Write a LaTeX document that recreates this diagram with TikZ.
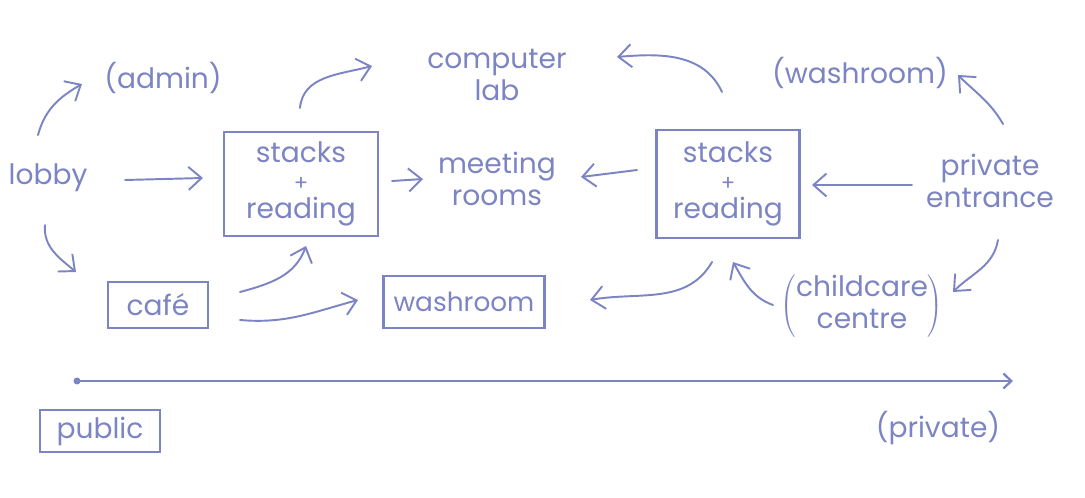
\documentclass[tikz,border=0pt]{standalone}
\usepackage{fontspec}
\setmainfont{Poppins}
\usetikzlibrary{arrows.meta}
\usepackage{xcolor}
\definecolor{ink}{HTML}{7C84C4}
\newcommand{\plusmark}{{\fontsize{12}{12}\selectfont +}}
\tikzset{
  place/.style={text=ink,align=center,font=\fontsize{16}{18}\selectfont,inner sep=1pt},
  room/.style={place,draw=ink,line width=1.4pt,inner sep=0pt},
  arr/.style={-{Straight Barb[length=2.6mm,width=4.6mm]},line width=1.1pt,draw=ink,line cap=round},
  axis/.style={-{Straight Barb[length=1.6mm,width=3mm]},line width=1.3pt,draw=ink}
}

\begin{document}
\begin{tikzpicture}[x=0.02cm,y=-0.02cm]
        \useasboundingbox (0,0) rectangle (1085,497);
        % places
        \node[place] (lobby) at (48,178) {lobby};
        \node[place] (admin) at (163,78) {(admin)};
        \node[room,minimum width=3.08cm,minimum height=2.08cm] (stackA) at (301,184) {stacks\\[-2pt]\plusmark\\[-2pt]reading};
        \node[place] (lab) at (497,75) {computer\\lab};
        \node[place] (meet) at (497,179) {meeting\\rooms};
        \node[room,minimum width=2.86cm,minimum height=2.16cm] (stackB) at (728,184) {stacks\\[-2pt]\plusmark\\[-2pt]reading};
        \node[place] (washB) at (860,73) {(washroom)};
        \node[place] (entr) at (990,181) {private\\entrance};
        \node[room,minimum width=2.0cm,minimum height=0.92cm] (cafe) at (158,305) {café};
        \node[room,minimum width=3.22cm,minimum height=1.04cm,font=\fontsize{15}{18}\selectfont] (washA) at (464,302) {washroom};
        \node[place] (child) at (862,306) {\(\left(\begin{tabular}{@{}c@{}}childcare\\centre\end{tabular}\right)\)};
        % flows
        \draw[arr] ([shift={(-10,-43)}]lobby.center) to[out=75,in=210] ([shift={(-81,6)}]admin.center);
        \draw[arr] ([shift={(-3,47)}]lobby.center) to[out=-95,in=140] ([shift={(-82,-33)}]cafe.center);
        \draw[arr] ([shift={(77,2)}]lobby.center) -- ([shift={(-98,-6)}]stackA.center);
        \draw[arr] ([shift={(-1,-76)}]stackA.center) to[out=85,in=195] ([shift={(-125,-9)}]lab.center);
        \draw[arr] ([shift={(91,-3)}]stackA.center) -- ([shift={(-74,0)}]meet.center);
        \draw[arr] ([shift={(-91,-14)}]stackB.center) -- ([shift={(84,-2)}]meet.center);
        \draw[arr] ([shift={(-6,-92)}]stackB.center) to[out=115,in=5] ([shift={(120,-18)}]lab.center);
        \draw[arr] ([shift={(-78,4)}]entr.center) -- ([shift={(84,1)}]stackB.center);
        \draw[arr] ([shift={(13,-57)}]entr.center) to[out=120,in=-45] ([shift={(98,2)}]washB.center);
        \draw[arr] ([shift={(8,59)}]entr.center) to[out=-100,in=45] ([shift={(91,-14)}]child.center);
        \draw[arr] ([shift={(-89,-1)}]child.center) to[out=160,in=-60] ([shift={(5,78)}]stackB.center);
        \draw[arr] ([shift={(-16,78)}]stackB.center) to[out=-120,in=10] ([shift={(126,-2)}]washA.center);
        \draw[arr] ([shift={(82,-13)}]cafe.center) to[out=15,in=-110] ([shift={(5,62)}]stackA.center);
        \draw[arr] ([shift={(82,15)}]cafe.center) to[out=-5,in=195] ([shift={(-106,-2)}]washA.center);
        % public -> private
        \coordinate (lo) at (77,381);
        \coordinate (hi) at (1013,381);
        \draw[axis] (lo) -- (hi);
        \fill[ink] (lo) circle (3.5);
        \node[room,minimum width=2.4cm,minimum height=0.84cm] (public) at (100,431) {public};
        \node[place] (private) at (938,428) {(private)};
      \end{tikzpicture}
\end{document}
